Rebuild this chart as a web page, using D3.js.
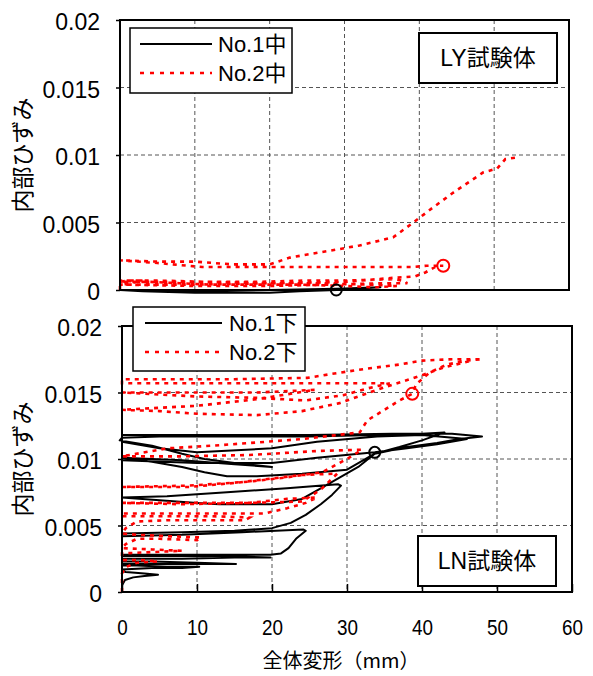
<!DOCTYPE html>
<html><head><meta charset="utf-8">
<script src="https://cdn.jsdelivr.net/npm/d3@7"></script>
<style>body{margin:0;background:#fff}svg{display:block}</style>
</head><body>
<script>
// ---- data ----
const xTickValues = [0, 10, 20, 30, 40, 50, 60];
const yTickValues = [0, 0.005, 0.01, 0.015, 0.02];
const yTickLabels = ["0", "0.005", "0.01", "0.015", "0.02"];
const xTitle = "全体変形（mm）";
const yTitle = "内部ひずみ";
const topLegend = ["No.1中", "No.2中"];
const botLegend = ["No.1下", "No.2下"];
const topLabel = "LY試験体";
const botLabel = "LN試験体";

// top panel (LY), [deformation mm, strain]
const no1Mid = [[0,0],[3,-0.0001],[10,-0.0002],[20,-0.0002],[24,-0.0001],[29,0],[34.8,0.0002],[29,0.0001],[20,0],[10,-0.0001],[0,0]];
const no2Mid = [[0,0],[0,0.0003],[0,0.0006],[1,0.0007],[3,0.0007],[1.5,0.0005],[0.3,0.0004],[0.5,0.0006],[4,0.0006],[8,0.0005],[12,0.0004],[18,0.0004],[24,0.0004],[30,0.0003],[34,0.0002],[37,0.0003],[33,0.0004],[28,0.0005],[20,0.0005],[12,0.0006],[5,0.0007],[0,0.0007],
 [3,0.0006],[10,0.0006],[18,0.0006],[25,0.0007],[30,0.0007],[36.5,0.0008],[37.7,0.0007],[38.4,0.0005],[35,0.0005],[28,0.0004],[20,0.0003],[10,0.0003],[0,0.0004],
 [10,0.0004],[20,0.0005],[30,0.0006],[36.5,0.0009],[39.4,0.0010],[40.8,0.0013],[42.4,0.0018],[43.2,0.0018],[41,0.0018],[39,0.0017],[30,0.0017],[20,0.0017],[11,0.0017],[5,0.0020],[0,0.0022],
 [5,0.0021],[10,0.0021],[15,0.0019],[20,0.0019],[22.7,0.0024],[25.8,0.0027],[29,0.0030],[32,0.0033],[36.5,0.0039],[39.2,0.0050],[41.8,0.0061],[44.5,0.0072],[48.5,0.0087],[50.4,0.0090],[51.5,0.0097],[52.8,0.0098]];
const topMarkers1 = [[28.9, 0]];
const topMarkers2 = [[43.2, 0.0018]];

// bottom panel (LN)
const no1Low = [[0,0],[0,0.0005],[0.4,0.0009],[1.5,0.0011],[3,0.0012],[4.8,0.0013],[3,0.0014],[0.5,0.0015],[0,0.0016],
 [0,0.0017],[4,0.0018],[8,0.0018],[10.3,0.0019],[6,0.0019],[2,0.0020],[0,0.0020],
 [0,0.0021],[6,0.0021],[12,0.0021],[15.2,0.0021],[10,0.0022],[4,0.0023],[0,0.0023],
 [0,0.0025],[8,0.0025],[15,0.0026],[19.8,0.0026],[12,0.0027],[4,0.0027],[0,0.0027],
 [0,0.0028],[10,0.0028],[19.8,0.0028],[21.2,0.0029],[22.2,0.0033],[23.2,0.0040],[24.5,0.0046],[24.2,0.0047],[16,0.0045],[8,0.0043],[0,0.0042],
 [0,0.0044],[8,0.0045],[15,0.0046],[20,0.0048],[22.5,0.0052],[24.5,0.0058],[26.5,0.0066],[28,0.0073],[29.2,0.0080],[28.8,0.0081],[22,0.0078],[14,0.0075],[6,0.0072],[0,0.0071],
 [5,0.0069],[10,0.0067],[13,0.0066],[17,0.0066],[20,0.0066],[24,0.0070],[26.5,0.0078],[29,0.0086],[31.5,0.0094],[33.7,0.0104],[37,0.0109],[40,0.0114],[43,0.0120],[40,0.0119],[34,0.0118],[25,0.0117],[15,0.0117],[5,0.0117],[0,0.0116],[-0.3,0.0114],
 [4,0.0110],[8,0.0104],[11,0.0100],[15,0.0097],[20,0.0094],[15,0.0096],[8,0.0099],[0,0.0101],
 [4,0.0098],[8,0.0094],[11,0.0090],[14,0.0087],[18,0.0087],[24,0.0089],[30,0.0092],[33.7,0.0104],[38,0.0109],[42,0.0112],[45,0.0115],[48,0.0117],[44,0.0119],[36,0.0119],[25,0.0118],[12,0.0118],[0,0.0118],
 [0,0.0113],[5,0.0108],[10,0.0105],[20,0.0108],[26,0.0113],[34,0.0117],[40,0.0118],
 [46,0.0115],[42,0.0111],[38,0.0108],[33.7,0.0105],[26,0.0101],[20,0.0097],[10,0.0097],[0,0.0099]];
const no2Low = [[0,0],[0,0.0007],[0,0.0014],[0.6,0.0019],[2,0.0022],[4.8,0.0023],[2.5,0.0024],[0,0.0024],
 [0,0.0029],[4,0.0030],[8,0.0031],[4,0.0032],[0,0.0033],
 [0.5,0.0036],[2,0.0040],[5,0.0040],[10,0.0039],[10.5,0.0041],[6,0.0042],[2,0.0043],[0,0.0044],
 [0.5,0.0048],[2,0.0053],[6,0.0054],[12,0.0054],[16.4,0.0054],[17,0.0056],[12,0.0057],[6,0.0057],[0,0.0057],
 [0,0.0059],[8,0.0059],[15,0.0059],[19,0.0059],[22,0.0063],[24.5,0.0067],[26,0.0071],[22,0.0070],[17,0.0067],[8,0.0067],[0,0.0067],
 [8,0.0066],[17,0.0067],[24,0.0068],[26.5,0.0077],[28.7,0.0089],[24,0.0088],[15,0.0082],[9,0.0079],[0,0.0079],
 [9,0.0080],[17,0.0083],[21.7,0.0086],[26.7,0.0090],[30.3,0.0101],[32,0.0107],[26,0.0106],[17,0.0103],[8,0.0102],[0,0.0102],
 [6,0.0108],[12,0.0110],[17,0.0112],[24,0.0115],[31.7,0.0120],[32.7,0.0129],[35,0.0137],[37,0.0144],[38.7,0.0149],[39.2,0.0156],[41,0.0165],[43.3,0.0171],[46,0.0174],[48,0.0175],
 [44,0.0175],[40,0.0174],[37,0.0171],[32.7,0.0168],[28,0.0164],[24.7,0.0161],[15,0.0160],[5,0.0160],[0,0.0160],
 [0,0.0157],[10,0.0157],[20,0.0157],[30,0.0157],[35.7,0.0157],[32.7,0.0153],[29.5,0.0148],[24.4,0.0144],[18,0.0146],[10,0.0147],[0,0.0150],
 [10,0.0150],[18,0.0150],[25.7,0.0152],
 [18,0.0145],[10,0.0140],[0,0.0137],[5,0.0136],[10,0.0134],[18,0.0133],[24,0.0136],[29,0.0142],[34,0.0152],[40,0.0163],[43,0.0169],[46.7,0.0174]];
const botMarkers1 = [[33.7, 0.0105]];
const botMarkers2 = [[38.7, 0.0149]];

// ---- drawing ----
const W = 593, H = 676;
const FONT = "'Liberation Sans', Arial, 'Noto Sans CJK JP', sans-serif";
const CJK = "'Noto Sans CJK JP', sans-serif";
const svg = d3.select("body").append("svg").attr("width", W).attr("height", H)
  .style("font-family", FONT);

const panels = [
  {x: d3.scaleLinear([0,60],[120,569]), y: d3.scaleLinear([0,0.02],[290,20]),
   s1: no1Mid, s2: no2Mid, m1: topMarkers1, m2: topMarkers2, legend: topLegend, label: topLabel,
   legendBox: [130,28,162,65], legendLine: [140,212], legendTextX: 218, legendY: [44,73],
   labelBox: [419,33,138,50], xAxis: false, titleY: 155},
  {x: d3.scaleLinear([0,60],[122,572]), y: d3.scaleLinear([0,0.02],[592,326]),
   s1: no1Low, s2: no2Low, m1: botMarkers1, m2: botMarkers2, legend: botLegend, label: botLabel,
   legendBox: [133,307,172,64], legendLine: [145,222], legendTextX: 229, legendY: [323,352],
   labelBox: [418,536,138,50], xAxis: true, titleY: 459}
];

panels.forEach(p => {
  const g = svg.append("g");
  const [x0, x1] = p.x.range(), [yb, yt] = p.y.range();
  // grid
  g.append("g").selectAll("line").data([10,20,30,40,50]).join("line")
    .attr("x1", d => p.x(d)).attr("x2", d => p.x(d)).attr("y1", yt).attr("y2", yb)
    .attr("stroke", "#555").attr("stroke-dasharray", "4,3").attr("stroke-width", 1);
  g.append("g").selectAll("line").data([0.005,0.01,0.015]).join("line")
    .attr("x1", x0).attr("x2", x1).attr("y1", d => p.y(d)).attr("y2", d => p.y(d))
    .attr("stroke", "#555").attr("stroke-dasharray", "4,3").attr("stroke-width", 1);

  // y axis
  const ya = g.append("g").attr("transform", `translate(${x0},0)`)
    .call(d3.axisLeft(p.y).tickValues(yTickValues).tickSize(4).tickPadding(16)
      .tickFormat((d,i) => yTickLabels[i]));
  ya.select(".domain").remove();
  ya.selectAll("line").attr("stroke", "#000").attr("stroke-width", 1.5);
  ya.selectAll("text").attr("font-size", 23).attr("font-family", FONT).attr("fill", "#000").attr("dy", "0.43em");

  if (p.xAxis) {
    const xa = g.append("g").attr("transform", `translate(0,${yb})`)
      .call(d3.axisBottom(p.x).tickValues(xTickValues).tickSizeInner(-8).tickSizeOuter(0).tickPadding(27)
        .tickFormat(d3.format("d")));
    xa.select(".domain").remove();
    xa.selectAll("line").attr("stroke", "#000").attr("stroke-width", 1.5);
    xa.selectAll("text").attr("font-size", 22).attr("font-family", FONT).attr("fill", "#000")
      .attr("textLength", function(){ return this.textContent.length * 10.5; })
      .attr("lengthAdjust", "spacingAndGlyphs");
  }

  // data
  const line = d3.line().x(d => p.x(d[0])).y(d => p.y(d[1]));
  g.append("path").datum(p.s1).attr("d", line).attr("fill", "none")
    .attr("stroke", "#000").attr("stroke-width", 2).attr("stroke-linejoin", "round");
  g.append("path").datum(p.s2).attr("d", line).attr("fill", "none")
    .attr("stroke", "#ff0000").attr("stroke-width", 2.6).attr("stroke-dasharray", "4,5");
  g.selectAll(".m1").data(p.m1).join("circle").attr("cx", d => p.x(d[0])).attr("cy", d => p.y(d[1]))
    .attr("r", 5.5).attr("fill", "none").attr("stroke", "#000").attr("stroke-width", 2);
  g.selectAll(".m2").data(p.m2).join("circle").attr("cx", d => p.x(d[0])).attr("cy", d => p.y(d[1]))
    .attr("r", 6).attr("fill", "none").attr("stroke", "#ff0000").attr("stroke-width", 2);

  // frame
  g.append("rect").attr("x", x0).attr("y", yt).attr("width", x1 - x0).attr("height", yb - yt)
    .attr("fill", "none").attr("stroke", "#000").attr("stroke-width", 2);

  // legend
  const [lx, ly, lw, lh] = p.legendBox;
  g.append("rect").attr("x", lx).attr("y", ly).attr("width", lw).attr("height", lh)
    .attr("fill", "#fff").attr("stroke", "#000").attr("stroke-width", 1.5);
  g.append("line").attr("x1", p.legendLine[0]).attr("x2", p.legendLine[1])
    .attr("y1", p.legendY[0]).attr("y2", p.legendY[0]).attr("stroke", "#000").attr("stroke-width", 2);
  g.append("line").attr("x1", p.legendLine[0]).attr("x2", p.legendLine[1])
    .attr("y1", p.legendY[1]).attr("y2", p.legendY[1]).attr("stroke", "#ff0000")
    .attr("stroke-width", 2.6).attr("stroke-dasharray", "4,6");
  p.legend.forEach((t, i) => {
    g.append("text").attr("x", p.legendTextX).attr("y", p.legendY[i] + 8)
      .attr("font-size", 22).attr("fill", "#000").text(t);
  });

  // specimen label
  const [bx, by, bw, bh] = p.labelBox;
  g.append("rect").attr("x", bx).attr("y", by).attr("width", bw).attr("height", bh)
    .attr("fill", "#fff").attr("stroke", "#000").attr("stroke-width", 2);
  g.append("text").attr("x", bx + bw / 2).attr("y", by + bh / 2 + 8).attr("text-anchor", "middle")
    .attr("font-size", 23).attr("fill", "#000").text(p.label);

  // y title
  svg.append("text").attr("transform", `translate(31,${p.titleY}) rotate(-90)`)
    .attr("text-anchor", "middle").attr("font-family", CJK).attr("font-size", 23).attr("fill", "#000")
    .text(yTitle);
});

svg.append("text").attr("x", 341).attr("y", 668).attr("text-anchor", "middle")
  .attr("font-family", CJK).attr("font-size", 20).attr("fill", "#000").text(xTitle);
</script>
</body></html>
